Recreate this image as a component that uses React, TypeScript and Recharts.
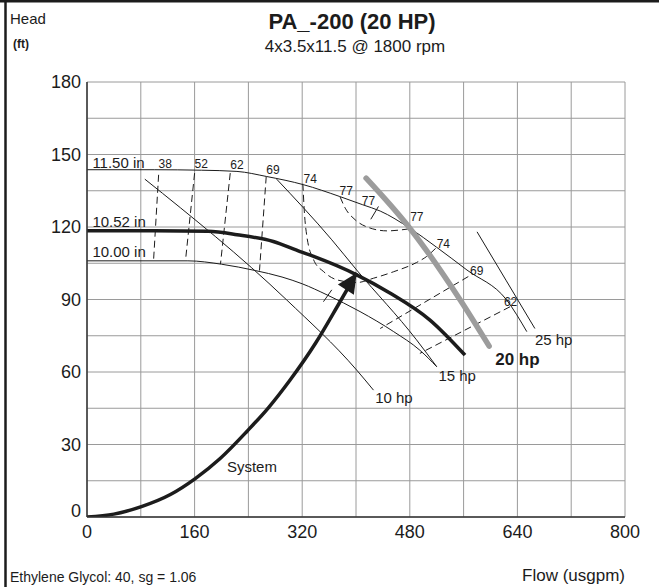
import React from 'react';
import { LineChart, Line, XAxis, YAxis, CartesianGrid, ReferenceDot } from 'recharts';

const FONT = '"Liberation Sans", Arial, Helvetica, sans-serif';
const INK = '#1c1c1c';

// every gridline is a tick, only some get a label
const flowTicks = [0, 80, 160, 240, 320, 400, 480, 560, 640, 720, 800];
const headTicks = [0, 15, 30, 45, 60, 75, 90, 105, 120, 135, 150, 165, 180];
const flowLabels = [0, 160, 320, 480, 640, 800];
const headLabels = [0, 30, 60, 90, 120, 150, 180];

type Pt = { q: number; h: number };

// impeller curves (flow usgpm, head ft)
const imp1150: Pt[] = [
  { q: 0, h: 143.7 }, { q: 100, h: 143.7 }, { q: 170, h: 143.5 }, { q: 223, h: 143 },
  { q: 267, h: 140.9 }, { q: 322, h: 137.5 }, { q: 376, h: 132.6 }, { q: 410, h: 129.2 },
  { q: 436, h: 126.6 }, { q: 480, h: 119.5 }, { q: 520, h: 111.6 }, { q: 565, h: 102.2 },
  { q: 624, h: 89.8 }, { q: 654, h: 76.7 },
];
const imp1052: Pt[] = [
  { q: 0, h: 118.5 }, { q: 100, h: 118.5 }, { q: 180, h: 118.2 }, { q: 223, h: 116.8 },
  { q: 277, h: 114 }, { q: 317, h: 109.8 }, { q: 337, h: 107.8 }, { q: 401, h: 100.2 },
  { q: 451, h: 92.6 }, { q: 510, h: 81.5 }, { q: 562, h: 67 },
];
const imp1000: Pt[] = [
  { q: 0, h: 106 }, { q: 150, h: 106 }, { q: 200, h: 104.6 }, { q: 250, h: 102 },
  { q: 290, h: 99.3 }, { q: 320, h: 96.5 }, { q: 357, h: 91.9 }, { q: 406, h: 85 },
  { q: 456, h: 76.7 }, { q: 495, h: 69 }, { q: 520, h: 62.2 },
];

const systemCurve: Pt[] = [
  { q: 0, h: 0 }, { q: 40, h: 1.2 }, { q: 82, h: 4.4 }, { q: 124, h: 9.3 }, { q: 161, h: 15.9 },
  { q: 198, h: 24.2 }, { q: 238, h: 35.5 }, { q: 270, h: 45.3 }, { q: 302, h: 56.7 },
  { q: 340, h: 72 }, { q: 372, h: 87 }, { q: 401, h: 101 },
];

// iso-efficiency lines (dashed)
const eff38: Pt[] = [{ q: 106.5, h: 141.6 }, { q: 99, h: 106.3 }];
const eff52: Pt[] = [{ q: 160, h: 142.3 }, { q: 146.5, h: 106.2 }];
const eff62a: Pt[] = [{ q: 213, h: 142.3 }, { q: 198.5, h: 104.7 }];
const eff69a: Pt[] = [{ q: 266.5, h: 140.9 }, { q: 256.5, h: 102 }];
const eff74: Pt[] = [
  { q: 321, h: 137.9 }, { q: 323, h: 127.1 }, { q: 327, h: 116 }, { q: 337, h: 106.4 },
  { q: 352, h: 101.5 }, { q: 372, h: 98.1 }, { q: 401, h: 97 }, { q: 426, h: 98.8 },
  { q: 456, h: 101.5 }, { q: 490, h: 105.3 }, { q: 505, h: 107.8 }, { q: 520, h: 111.6 },
];
const eff77: Pt[] = [
  { q: 376.4, h: 132.4 }, { q: 384, h: 127.8 }, { q: 398.7, h: 123 }, { q: 418.5, h: 119.8 },
  { q: 446, h: 118.4 }, { q: 478, h: 119.2 },
];
const eff69b: Pt[] = [{ q: 567, h: 99.5 }, { q: 436, h: 78 }];
const eff62b: Pt[] = [{ q: 629, h: 87 }, { q: 495, h: 67.7 }];

// best efficiency marks
const bep1150: Pt[] = [{ q: 422, h: 123.2 }, { q: 433.4, h: 128.5 }];
const bep1000: Pt[] = [{ q: 351.6, h: 89.1 }, { q: 364, h: 94 }];

// motor power lines
const hp10: Pt[] = [{ q: 86, h: 139.8 }, { q: 297, h: 89.8 }, { q: 401, h: 60.8 }, { q: 426, h: 52.5 }];
const hp15: Pt[] = [{ q: 282, h: 139.8 }, { q: 364, h: 114.7 }, { q: 401, h: 102.2 }, { q: 490, h: 73.3 }, { q: 520, h: 62.2 }];
const hp20: Pt[] = [{ q: 415, h: 140.2 }, { q: 480, h: 119.5 }, { q: 555, h: 89.8 }, { q: 598, h: 70.7 }];
const hp25: Pt[] = [{ q: 580, h: 118 }, { q: 623, h: 98 }, { q: 666, h: 78 }];

type Lbl = { t: string; q: number; h: number };
const sizeLabels: Lbl[] = [
  { t: '11.50 in', q: 8, h: 144.5 },
  { t: '10.52 in', q: 8, h: 120 },
  { t: '10.00 in', q: 8, h: 107.7 },
];
const effLabels: Lbl[] = [
  { t: '38', q: 106.4, h: 144.4 }, { t: '52', q: 160, h: 144.5 }, { t: '62', q: 213, h: 144 },
  { t: '69', q: 266.5, h: 141.9 }, { t: '74', q: 322, h: 138.2 }, { t: '77', q: 375.4, h: 133.3 },
  { t: '77', q: 408.7, h: 128.9 }, { t: '77', q: 480.5, h: 122.3 }, { t: '74', q: 520, h: 111.2 },
  { t: '69', q: 569.6, h: 100.2 }, { t: '62', q: 620, h: 87.4 },
];
const hpLabels: Lbl[] = [
  { t: '10 hp', q: 428.5, h: 47 },
  { t: '15 hp', q: 522.5, h: 56.4 },
  { t: '25 hp', q: 666, h: 71.2 },
];
const ratedLabel: Lbl = { t: '20 hp', q: 607, h: 62.8 };
const systemLabel: Lbl = { t: 'System', q: 208, h: 18.6 };

const textShape = (t: string, size: number, bold = false) => (p: any) => (
  <text x={p.cx} y={p.cy} fontSize={size} fontWeight={bold ? 'bold' : 'normal'} fill={INK} fontFamily={FONT}>
    {t}
  </text>
);

const XTick = (p: any) => {
  const v = p.payload.value;
  if (!flowLabels.includes(v)) return <g />;
  return (
    <text x={p.x} y={p.y} dy="0.71em" textAnchor="middle" fontSize={18} fill={INK} fontFamily={FONT}>
      {v}
    </text>
  );
};

const YTick = (p: any) => {
  const v = p.payload.value;
  if (!headLabels.includes(v)) return <g />;
  return (
    <text x={p.x} y={p.y + (v === 0 ? -6 : 0)} dy="0.355em" textAnchor="end" fontSize={18} fill={INK} fontFamily={FONT}>
      {v}
    </text>
  );
};

// arrow head at the end of the system curve
const SystemArrow = (p: any) => {
  if (p.index !== systemCurve.length - 1) return <g key={p.index} />;
  const dx = 0.54, dy = -0.84, L = 20, W = 9.5;
  const bx = p.cx - dx * L, by = p.cy - dy * L;
  const pts = `${p.cx},${p.cy} ${bx - dy * W},${by + dx * W} ${bx + dy * W},${by - dx * W}`;
  return <polygon key={p.index} points={pts} fill={INK} />;
};

const thin = { stroke: INK, strokeWidth: 1, dot: false, activeDot: false, isAnimationActive: false } as const;
const dashed = { ...thin, strokeDasharray: '7 4' } as const;

export default function App() {
  return (
    <div style={{ position: 'absolute', left: 0, top: 0, width: 659, height: 587, background: '#fff' }}>
      <LineChart width={659} height={587} margin={{ top: 82, right: 34, bottom: 0, left: 0 }}>
        <CartesianGrid stroke="#9a9a9a" strokeWidth={1} />
        <XAxis
          type="number"
          dataKey="q"
          domain={[0, 800]}
          ticks={flowTicks}
          interval={0}
          height={70}
          tickLine={false}
          tickSize={6}
          tickMargin={2}
          tick={<XTick />}
          axisLine={{ stroke: '#333', strokeWidth: 1.5 }}
          allowDataOverflow
        />
        <YAxis
          type="number"
          dataKey="h"
          domain={[0, 180]}
          ticks={headTicks}
          interval={0}
          width={87}
          tickLine={false}
          tickSize={4}
          tickMargin={2}
          tick={<YTick />}
          axisLine={{ stroke: '#333', strokeWidth: 1.5 }}
          allowDataOverflow
        />

        <Line data={eff38} dataKey="h" type="linear" {...dashed} />
        <Line data={eff52} dataKey="h" type="linear" {...dashed} />
        <Line data={eff62a} dataKey="h" type="linear" {...dashed} />
        <Line data={eff69a} dataKey="h" type="linear" {...dashed} />
        <Line data={eff74} dataKey="h" type="monotone" {...dashed} />
        <Line data={eff77} dataKey="h" type="monotone" {...dashed} />
        <Line data={eff69b} dataKey="h" type="linear" {...dashed} />
        <Line data={eff62b} dataKey="h" type="linear" {...dashed} />

        <Line data={hp10} dataKey="h" type="monotone" {...thin} />
        <Line data={hp15} dataKey="h" type="monotone" {...thin} />
        <Line data={hp25} dataKey="h" type="monotone" {...thin} />
        <Line data={bep1150} dataKey="h" type="linear" {...thin} />
        <Line data={bep1000} dataKey="h" type="linear" {...thin} />

        <Line data={imp1150} dataKey="h" type="monotone" {...thin} />
        <Line data={imp1000} dataKey="h" type="monotone" {...thin} />

        <Line
          data={hp20}
          dataKey="h"
          type="monotone"
          stroke="#9c9c9c"
          strokeWidth={5.5}
          strokeLinecap="round"
          dot={false}
          activeDot={false}
          isAnimationActive={false}
        />
        <Line
          data={imp1052}
          dataKey="h"
          type="monotone"
          stroke={INK}
          strokeWidth={3.5}
          dot={false}
          activeDot={false}
          isAnimationActive={false}
        />
        <Line
          data={systemCurve}
          dataKey="h"
          type="monotone"
          stroke={INK}
          strokeWidth={3.5}
          dot={SystemArrow}
          activeDot={false}
          isAnimationActive={false}
        />

        {sizeLabels.map((l) => (
          <ReferenceDot key={l.t} x={l.q} y={l.h} r={0} ifOverflow="visible" shape={textShape(l.t, 15)} />
        ))}
        {effLabels.map((l, i) => (
          <ReferenceDot key={'e' + i} x={l.q} y={l.h} r={0} ifOverflow="visible" shape={textShape(l.t, 12)} />
        ))}
        {hpLabels.map((l) => (
          <ReferenceDot key={l.t} x={l.q} y={l.h} r={0} ifOverflow="visible" shape={textShape(l.t, 15)} />
        ))}
        <ReferenceDot x={ratedLabel.q} y={ratedLabel.h} r={0} ifOverflow="visible" shape={textShape(ratedLabel.t, 17, true)} />
        <ReferenceDot x={systemLabel.q} y={systemLabel.h} r={0} ifOverflow="visible" shape={textShape(systemLabel.t, 15)} />
      </LineChart>

      <svg width={659} height={587} style={{ position: 'absolute', left: 0, top: 0, pointerEvents: 'none' }}>
        <line x1={5.5} y1={0} x2={5.5} y2={587} stroke={INK} strokeWidth={2.5} />
        <line x1={0} y1={1.25} x2={659} y2={1.25} stroke={INK} strokeWidth={2.5} />
        <g fontFamily={FONT} fill={INK}>
          <text x={10} y={24} fontSize={15}>Head</text>
          <text x={13} y={48} fontSize={12} fontWeight="bold">(ft)</text>
          <text x={352} y={29} fontSize={22} fontWeight="bold" textAnchor="middle">PA_-200 (20 HP)</text>
          <text x={355} y={52} fontSize={17} textAnchor="middle">4x3.5x11.5 @ 1800 rpm</text>
          <text x={10} y={582} fontSize={14}>Ethylene Glycol: 40, sg = 1.06</text>
          <text x={625} y={581} fontSize={17} textAnchor="end">Flow (usgpm)</text>
        </g>
      </svg>
    </div>
  );
}
